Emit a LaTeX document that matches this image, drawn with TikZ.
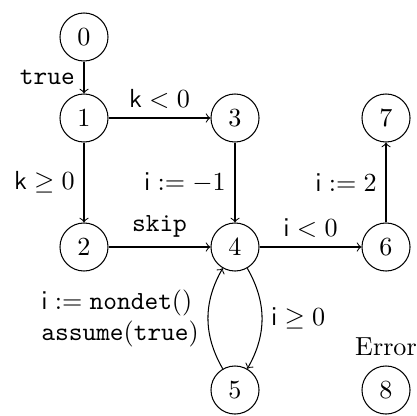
\documentclass[tikz,border=0pt]{standalone}
\begin{document}
\begin{tikzpicture}[x=0.383pt,y=0.383pt,
  state/.style={draw,circle,minimum size=18.4pt,inner sep=0pt},
  tr/.style={->,line width=0.4pt}]
\useasboundingbox (0,0) rectangle (417,415);
\node[state] (n0) at (84,378) {$0$};
\node[state] (n1) at (84,297) {$1$};
\node[state] (n3) at (235,297) {$3$};
\node[state] (n7) at (386,297) {$7$};
\node[state] (n2) at (84,168) {$2$};
\node[state] (n4) at (235,168) {$4$};
\node[state] (n6) at (386,168) {$6$};
\node[state] (n5) at (235,25) {$5$};
\node[state,label={above:Error}] (n8) at (386,25) {$8$};
\draw[tr] (n0) -- node[left] {\texttt{true}} (n1);
\draw[tr] (n1) -- node[above] {$\mathsf{k} < 0$} (n3);
\draw[tr] (n1) -- node[left] {$\mathsf{k} \geq 0$} (n2);
\draw[tr] (n3) -- node[left] {$\mathsf{i} := -1$} (n4);
\draw[tr] (n2) -- node[above] {\texttt{skip}} (n4);
\draw[tr] (n4) -- node[above] {$\mathsf{i} < 0$} (n6);
\draw[tr] (n6) -- node[left] {$\mathsf{i} := 2$} (n7);
\draw[tr] (n4) to[bend left=30] node[right] {$\mathsf{i} \geq 0$} (n5);
\draw[tr] (n5) to[bend left=30] node[left,align=left] {$\mathsf{i} := \mathtt{nondet}()$\\$\mathtt{assume}(\mathtt{true})$} (n4);
\end{tikzpicture}
\end{document}
